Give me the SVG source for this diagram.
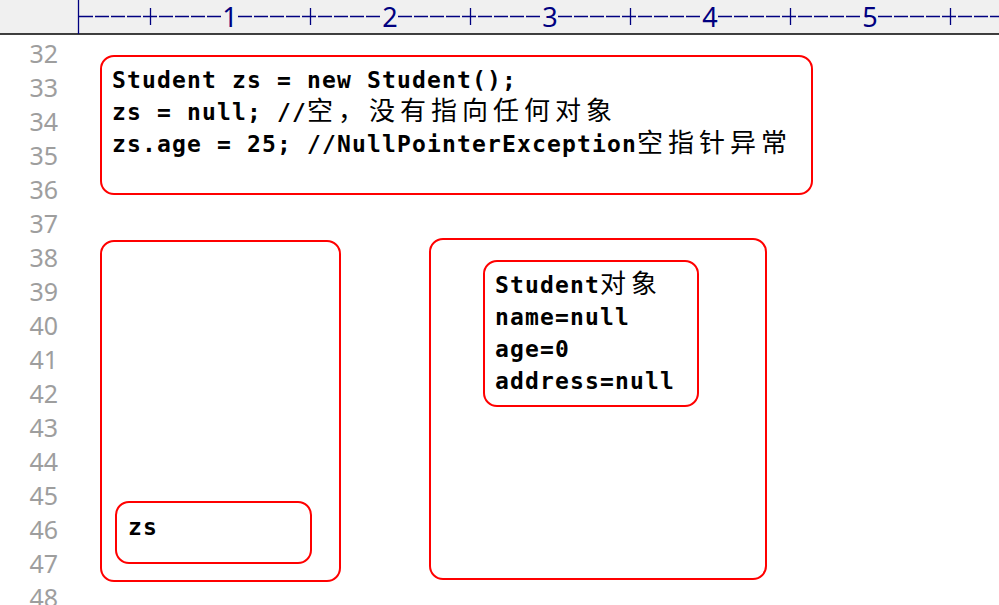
<svg xmlns="http://www.w3.org/2000/svg" width="999" height="605" viewBox="0 0 999 605">
  <style>
    .ruler { stroke: #000080; stroke-width: 1.3; fill: none; }
    .dash { stroke-dasharray: 14 2; }
    .rnum { font-family: "Noto Sans", "Open Sans", sans-serif; font-size: 27px; fill: #000080; text-anchor: middle; }
    .ln { font-family: "Noto Sans", "Open Sans", sans-serif; font-size: 25px; fill: #9e9e9e; text-anchor: end; }
    .box { fill: none; stroke: #ff0000; stroke-width: 2; }
    .code { font-family: "DejaVu Sans Mono", "Liberation Mono", monospace; font-size: 23px; font-weight: bold; letter-spacing: 1.15px; fill: #000000; }
    .cjk { font-family: "Noto Sans CJK SC", sans-serif; font-size: 26px; font-weight: normal; letter-spacing: 5px; }
  </style>

  <!-- editor chrome -->
  <g id="ruler">
    <rect x="0" y="0" width="999" height="34" fill="#f0f0f0"/>
    <line x1="0" y1="34" x2="999" y2="34" stroke="#000000" stroke-width="1.5"/>
    <line class="ruler" x1="78.5" y1="0" x2="78.5" y2="34"/>
    <line class="ruler dash" x1="79" y1="16.5" x2="222" y2="16.5"/>
    <line class="ruler dash" x1="238" y1="16.5" x2="382" y2="16.5"/>
    <line class="ruler dash" x1="398" y1="16.5" x2="542" y2="16.5"/>
    <line class="ruler dash" x1="558" y1="16.5" x2="702" y2="16.5"/>
    <line class="ruler dash" x1="718" y1="16.5" x2="862" y2="16.5"/>
    <line class="ruler dash" x1="878" y1="16.5" x2="999" y2="16.5"/>
    <line class="ruler" x1="150.5" y1="8" x2="150.5" y2="25"/>
    <line class="ruler" x1="310.5" y1="8" x2="310.5" y2="25"/>
    <line class="ruler" x1="470.5" y1="8" x2="470.5" y2="25"/>
    <line class="ruler" x1="630.5" y1="8" x2="630.5" y2="25"/>
    <line class="ruler" x1="790.5" y1="8" x2="790.5" y2="25"/>
    <line class="ruler" x1="950.5" y1="8" x2="950.5" y2="25"/>
    <text class="rnum" x="230" y="27">1</text>
    <text class="rnum" x="390" y="27">2</text>
    <text class="rnum" x="550" y="27">3</text>
    <text class="rnum" x="710" y="27">4</text>
    <text class="rnum" x="870" y="27">5</text>
  </g>

  <g id="line-numbers">
    <text class="ln" x="58" y="63">32</text>
    <text class="ln" x="58" y="97">33</text>
    <text class="ln" x="58" y="131">34</text>
    <text class="ln" x="58" y="165">35</text>
    <text class="ln" x="58" y="199">36</text>
    <text class="ln" x="58" y="233">37</text>
    <text class="ln" x="58" y="267">38</text>
    <text class="ln" x="58" y="301">39</text>
    <text class="ln" x="58" y="335">40</text>
    <text class="ln" x="58" y="369">41</text>
    <text class="ln" x="58" y="403">42</text>
    <text class="ln" x="58" y="437">43</text>
    <text class="ln" x="58" y="471">44</text>
    <text class="ln" x="58" y="505">45</text>
    <text class="ln" x="58" y="539">46</text>
    <text class="ln" x="58" y="573">47</text>
    <text class="ln" x="58" y="607">48</text>
  </g>

  <g id="code-box">
    <rect class="box" x="101" y="56" width="711" height="138" rx="13"/>
    <text class="code" x="112" y="88">Student zs = new Student();</text>
    <text class="code" x="112" y="120">zs = null; //<tspan class="cjk">空，没有指向任何对象</tspan></text>
    <text class="code" x="112" y="152">zs.age = 25; //NullPointerException<tspan class="cjk">空指针异常</tspan></text>
  </g>

  <g id="stack">
    <rect class="box" x="101" y="241" width="239" height="340" rx="13"/>
  </g>

  <g id="zs-var">
    <rect class="box" x="116" y="502" width="195" height="61" rx="13"/>
    <text class="code" x="128" y="535">zs</text>
  </g>

  <g id="heap">
    <rect class="box" x="430" y="239" width="336" height="340" rx="13"/>
  </g>

  <g id="student-object">
    <rect class="box" x="484" y="261" width="214" height="145" rx="13"/>
    <text class="code" x="495" y="293">Student<tspan class="cjk">对象</tspan></text>
    <text class="code" x="495" y="325">name=null</text>
    <text class="code" x="495" y="357">age=0</text>
    <text class="code" x="495" y="389">address=null</text>
  </g>

  <g id="connectors"></g>
</svg>
